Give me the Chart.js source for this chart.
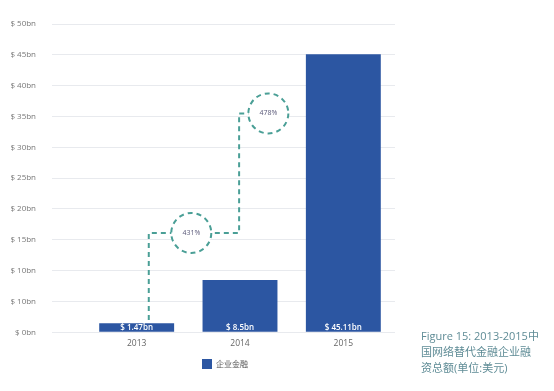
<!DOCTYPE html>
<html>
<head>
<meta charset="utf-8">
<script src="https://cdn.jsdelivr.net/npm/chart.js@4"></script>
<style>
  body { margin: 0; background: #fff; }
  #wrap { position: relative; width: 554px; height: 391px; }
  #myChart { position: absolute; left: 0; top: 0; }
  #caption {
    position: absolute; left: 421px; top: 328px; width: 134px;
    font-family: "Open Sans", "Noto Sans CJK SC", sans-serif;
    font-size: 11px; line-height: 16px; color: #5f8c96; white-space: nowrap;
  }
</style>
</head>
<body>
<div id="wrap">
  <canvas id="myChart" width="450" height="391"></canvas>
  <div id="caption">Figure 15: 2013-2015中<br>国网络替代金融企业融<br>资总额(单位:美元)</div>
</div>
<script>
const years = ["2013", "2014", "2015"];
const funding = [1.47, 8.5, 45.11];
const barLabels = ["$ 1.47bn", "$ 8.5bn", "$ 45.11bn"];
const yTickLabels = ["$ 0bn", "$ 10bn", "$ 10bn", "$ 15bn", "$ 20bn", "$ 25bn",
  "$ 30bn", "$ 35bn", "$ 40bn", "$ 45bn", "$ 50bn"];
const seriesName = "企业金融";

// dashed growth path (x in category index units, y in $bn)
const pathX = [-0.03, -0.03, 0.45, 0.99, 0.99, 1.32];
const pathY = [2.0, 16.1, 16.1, 16.1, 35.5, 35.5];
// growth bubbles
const growthX = [0.45, 1.32];
const growthY = [16.1, 35.5];
const growthLabels = ["431%", "478%"];

const barColor = "#2c56a2";
const dashColor = "#4a9f96";

const barText = {
  id: "barText",
  afterDatasetsDraw(chart) {
    const ctx = chart.ctx;
    const meta = chart.getDatasetMeta(0);
    ctx.save();
    ctx.fillStyle = "#ffffff";
    ctx.font = "600 8px 'Open Sans', sans-serif";
    ctx.textAlign = "center";
    ctx.textBaseline = "middle";
    meta.data.forEach((bar, i) => {
      ctx.fillText(barLabels[i], bar.x, bar.base - 4.5);
    });
    ctx.restore();
  }
};

const bubbles = {
  id: "bubbles",
  afterDatasetsDraw(chart) {
    const ctx = chart.ctx;
    const xs = chart.scales.x2;
    const ys = chart.scales.y;
    ctx.save();
    growthX.forEach((gx, i) => {
      const px = xs.getPixelForValue(gx);
      const py = ys.getPixelForValue(growthY[i]);
      ctx.beginPath();
      ctx.arc(px, py, 20, 0, Math.PI * 2);
      ctx.fillStyle = "#ffffff";
      ctx.fill();
      ctx.setLineDash([5, 4]);
      ctx.lineWidth = 2;
      ctx.strokeStyle = dashColor;
      ctx.stroke();
      ctx.setLineDash([]);
      ctx.fillStyle = "#5b5a7a";
      ctx.font = "7px 'Open Sans', sans-serif";
      ctx.textAlign = "center";
      ctx.textBaseline = "middle";
      ctx.fillText(growthLabels[i], px, py);
    });
    ctx.restore();
  }
};

const ctx = document.getElementById("myChart").getContext("2d");
const myChart = new Chart(ctx, {
  type: "bar",
  data: {
    labels: years,
    datasets: [
      {
        label: seriesName,
        data: funding,
        backgroundColor: barColor,
        grouped: false,
        barPercentage: 0.725,
        categoryPercentage: 1,
        order: 2
      },
      {
        type: "line",
        label: "growth",
        data: pathX.map((x, i) => ({ x: x, y: pathY[i] })),
        xAxisID: "x2",
        borderColor: dashColor,
        borderWidth: 2,
        borderDash: [5, 4],
        pointRadius: 0,
        fill: false,
        order: 1
      }
    ]
  },
  options: {
    responsive: false,
    animation: false,
    layout: { padding: { top: 24, right: 0, left: 0, bottom: 12 } },
    plugins: {
      legend: {
        position: "bottom",
        labels: {
          boxWidth: 10,
          boxHeight: 10,
          padding: 4.5,
          color: "#555",
          font: { size: 8, family: "'Noto Sans CJK SC', sans-serif" },
          filter: (item) => item.datasetIndex === 0
        }
      },
      tooltip: { enabled: false }
    },
    scales: {
      x: {
        grid: { display: false, drawTicks: false },
        border: { display: false },
        ticks: { color: "#666", font: { size: 8.5, family: "'Open Sans', sans-serif" }, padding: 6 }
      },
      x2: {
        type: "linear",
        display: false,
        min: -0.5,
        max: 2.5
      },
      y: {
        min: 0,
        max: 50,
        afterFit: (scale) => { scale.width = 85; },
        ticks: {
          stepSize: 5,
          padding: 16,
          color: "#777",
          font: { size: 8, family: "'Open Sans', sans-serif" },
          callback: (v, i) => yTickLabels[i]
        },
        grid: { color: "#e8eaee", tickLength: 33 },
        border: { display: false }
      },
      y2: {
        position: "right",
        min: 0,
        max: 50,
        afterFit: (scale) => { scale.width = 55; },
        ticks: { display: false },
        grid: { display: false, drawTicks: false },
        border: { display: false }
      }
    }
  },
  plugins: [barText, bubbles]
});
</script>
</body>
</html>
